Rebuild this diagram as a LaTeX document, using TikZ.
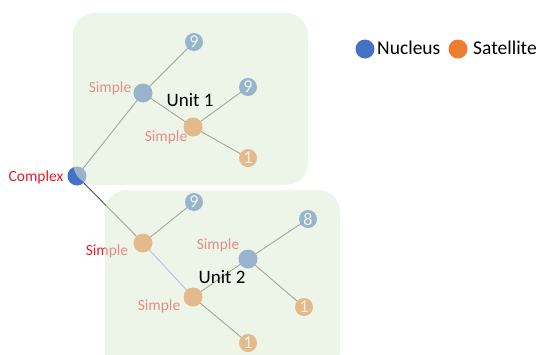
\documentclass[tikz,border=0pt]{standalone}
\usepackage{fontspec}
\setmainfont{Carlito}
\pgfdeclarelayer{bg}
\pgfdeclarelayer{fade}
\pgfdeclarelayer{top}
\pgfsetlayers{bg,main,fade,top}
\definecolor{nuc}{HTML}{4472C4}
\definecolor{sat}{HTML}{ED7D31}
\definecolor{boxg}{HTML}{DEEBD5}
\definecolor{lab}{HTML}{E31E2A}
\definecolor{edgec}{HTML}{555555}
\definecolor{edgeb}{HTML}{6F9AD6}
\tikzset{
  nnode/.style={circle,fill=nuc,minimum size=19pt,inner sep=0pt},
  snode/.style={circle,fill=sat,minimum size=19pt,inner sep=0pt},
  nleaf/.style={circle,fill=nuc,minimum size=18pt,inner sep=0pt,text=white,font=\fontsize{18}{18}\selectfont},
  sleaf/.style={circle,fill=sat,minimum size=18pt,inner sep=0pt,text=white,font=\fontsize{18}{18}\selectfont},
  rlabel/.style={text=lab,font=\fontsize{15.5}{17}\selectfont,inner sep=0pt},
  unitlabel/.style={text=black,font=\fontsize{19}{21}\selectfont,inner sep=0pt},
  leglabel/.style={text=black,font=\fontsize{19.5}{21}\selectfont,inner sep=0pt,anchor=west},
  unitbox/.style={fill=boxg,fill opacity=0.55,draw=none,rounded corners=22pt},
  edge/.style={draw=edgec,line width=0.9pt},
}
\begin{document}
\begin{tikzpicture}[x=1pt,y=-1pt]
\useasboundingbox (0,0) rectangle (538,354);
% nodes
\node[nnode] (cx) at (77,176) {};
\node[nnode] (s1) at (143,93) {};
\node[nleaf] (l1) at (194,42) {9};
\node[snode] (s2) at (193,127) {};
\node[nleaf] (l2) at (248,87) {9};
\node[sleaf] (l3) at (248,158) {1};
\node[snode] (s3) at (143,243) {};
\node[nleaf] (l4) at (194,202) {9};
\node[snode] (s4) at (193,297) {};
\node[nnode] (s5) at (248,259) {};
\node[nleaf] (l5) at (308,219) {8};
\node[sleaf] (l6) at (304,307) {1};
\node[sleaf] (l7) at (248,343) {1};
% labels
\node[rlabel] (tc) at (36,177) {Complex};
\node[rlabel] (t1) at (110,88) {Simple};
\node[rlabel] (t2) at (166,137) {Simple};
\node[rlabel] (t3) at (107,251) {Simple};
\node[rlabel] (t5) at (218,245) {Simple};
\node[rlabel] (t4) at (159,306) {Simple};
% edges
\begin{pgfonlayer}{bg}
\draw[edge] (cx.center) -- (s1.center);
\draw[edge] (cx.center) -- (s3.center);
\draw[edge] (s1.center) -- (l1.center);
\draw[edge] (s1.center) -- (s2.center);
\draw[edge] (s2.center) -- (l2.center);
\draw[edge] (s2.center) -- (l3.center);
\draw[edge] (s3.center) -- (l4.center);
\draw[edge,draw=edgeb] (s3.center) -- (s4.center);
\draw[edge] (s4.center) -- (s5.center);
\draw[edge] (s5.center) -- (l5.center);
\draw[edge] (s5.center) -- (l6.center);
\draw[edge] (s4.center) -- (l7.center);
\end{pgfonlayer}
% unit boxes (semi-transparent overlay)
\begin{pgfonlayer}{fade}
\path[unitbox] (73,13) rectangle (308,185);
\path[unitbox] (105,190) rectangle (340,376);
\end{pgfonlayer}
\begin{pgfonlayer}{top}
\node[unitlabel] (u1) at (190,100) {Unit 1};
\node[unitlabel] (u2) at (222,277) {Unit 2};
\node[circle,fill=nuc,minimum size=19pt,inner sep=0pt] (kn) at (365,49) {};
\node[leglabel] (kt) at (377,48) {Nucleus};
\node[circle,fill=sat,minimum size=19pt,inner sep=0pt] (ks) at (458,49) {};
\node[leglabel] (ku) at (473,48) {Satellite};
\end{pgfonlayer}
\end{tikzpicture}
\end{document}
